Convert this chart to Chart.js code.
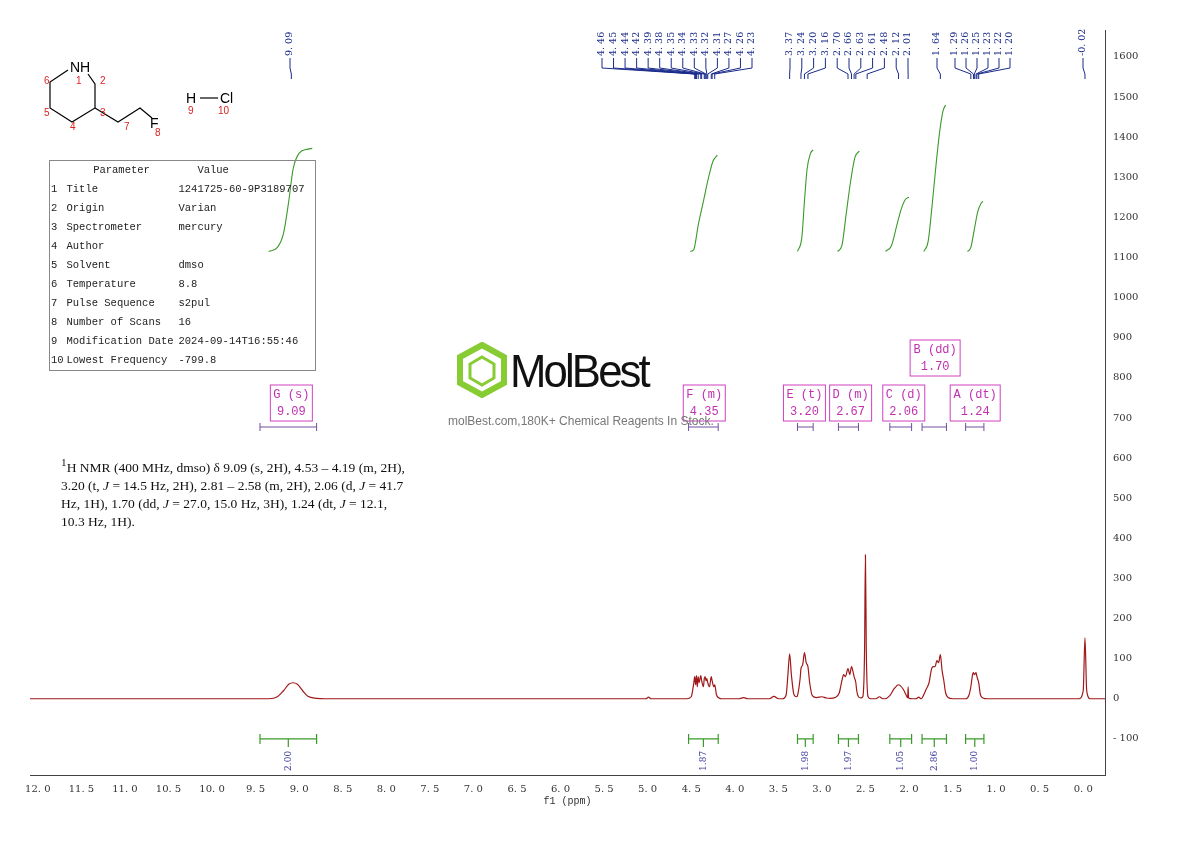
<!DOCTYPE html>
<html><head><meta charset="utf-8">
<script src="https://cdn.jsdelivr.net/npm/chart.js@4.4.1/dist/chart.umd.min.js"></script>
<style>
body{margin:0;background:#fff;width:1190px;height:841px;position:relative;overflow:hidden;font-family:"DejaVu Serif",serif}
#wrap{position:absolute;left:0;top:0;width:1190px;height:841px}
table.par{position:absolute;left:49px;top:160px;width:266px;height:211px;border:1.5px solid #888;border-collapse:collapse;font-family:"Liberation Mono",monospace;font-size:10.5px;color:#222;white-space:nowrap;table-layout:fixed}
table.par td{padding:0 1px;line-height:17px;overflow:visible}
.nmr{position:absolute;left:61px;top:453px;width:345px;font-family:"Liberation Serif",serif;font-size:13.5px;line-height:18px;color:#111}
.wm{position:absolute;left:448px;top:342px;color:#777}
</style></head>
<body>
<div id="wrap"><canvas id="c" width="1190" height="841"></canvas></div>
<svg style="position:absolute;left:0;top:0" width="330" height="150" font-family="Liberation Sans,Arial" font-size="11">
 <g stroke="#000" stroke-width="1.2" fill="none">
  <path d="M68 70 L50 82 L50 108 L72 122 L95 108 L95 84 L88 74"/>
  <path d="M95 108 L118 122 L140 108 L152 118"/>
  <path d="M200 98 L218 98"/>
 </g>
 <text x="70" y="72" font-size="14">NH</text>
 <text x="150" y="128" font-size="14">F</text>
 <text x="186" y="103" font-size="14">H</text><text x="220" y="103" font-size="14">Cl</text>
 <g fill="#d22" font-size="10"><text x="76" y="84">1</text><text x="100" y="84">2</text><text x="100" y="116">3</text>
 <text x="70" y="130">4</text><text x="44" y="116">5</text><text x="44" y="84">6</text><text x="124" y="130">7</text><text x="155" y="136">8</text>
 <text x="188" y="114">9</text><text x="218" y="114">10</text></g>
</svg>
<table class="par">
<colgroup><col style="width:16px"><col style="width:112px"><col style="width:138px"></colgroup>
<tr><td></td><td style="text-align:center">Parameter</td><td>&nbsp;&nbsp;&nbsp;Value</td></tr>
<tr><td>1</td><td>Title</td><td>1241725-60-9P3189707</td></tr>
<tr><td>2</td><td>Origin</td><td>Varian</td></tr>
<tr><td>3</td><td>Spectrometer</td><td>mercury</td></tr>
<tr><td>4</td><td>Author</td><td></td></tr>
<tr><td>5</td><td>Solvent</td><td>dmso</td></tr>
<tr><td>6</td><td>Temperature</td><td>8.8</td></tr>
<tr><td>7</td><td>Pulse Sequence</td><td>s2pul</td></tr>
<tr><td>8</td><td>Number of Scans</td><td>16</td></tr>
<tr><td>9</td><td>Modification Date</td><td>2024-09-14T16:55:46</td></tr>
<tr><td>10</td><td>Lowest Frequency</td><td>-799.8</td></tr>
</table>
<div class="nmr"><sup>1</sup>H NMR (400 MHz, dmso) δ 9.09 (s, 2H), 4.53 – 4.19 (m, 2H), 3.20 (t, <i>J</i> = 14.5 Hz, 2H), 2.81 – 2.58 (m, 2H), 2.06 (d, <i>J</i> = 41.7 Hz, 1H), 1.70 (dd, <i>J</i> = 27.0, 15.0 Hz, 3H), 1.24 (dt, <i>J</i> = 12.1, 10.3 Hz, 1H).</div>
<div class="wm">
 <svg width="56" height="56" style="position:absolute;left:6px;top:0"><polygon points="28,3 50,15 50,41 28,53 6,41 6,15" fill="none" stroke="#8c3" stroke-width="6"/><polygon points="28,15 40,22 40,36 28,43 16,36 16,22" fill="none" stroke="#8c3" stroke-width="3"/></svg>
 <div style="position:absolute;left:62px;top:2px;font-family:'Liberation Sans';font-size:46px;color:#111;letter-spacing:-3px;transform:scaleX(0.95);transform-origin:left;white-space:nowrap">MolBest</div>
 <div style="position:absolute;left:0;top:72px;font-family:'Liberation Sans';font-size:12px;white-space:nowrap">molBest.com,180K+ Chemical Reagents In Stock.</div>
</div>
<script>
const xTicks = [12,11.5,11,10.5,10,9.5,9,8.5,8,7.5,7,6.5,6,5.5,5,4.5,4,3.5,3,2.5,2,1.5,1,0.5,0];
const yTicks = [-100,0,100,200,300,400,500,600,700,800,900,1000,1100,1200,1300,1400,1500,1600];
const specPpm = [12.09,9.4,9.35,9.25,9.18,9.12,9.07,9.02,8.96,8.9,8.8,8.7,5.02,4.99,4.96,4.55,4.5,4.47,4.46,4.45,4.44,4.43,4.42,4.41,4.39,4.38,4.36,4.35,4.34,4.33,4.32,4.31,4.29,4.27,4.26,4.24,4.23,4.21,4.18,4.15,3.95,3.9,3.85,3.6,3.55,3.5,3.45,3.41,3.39,3.37,3.35,3.32,3.29,3.28,3.25,3.24,3.22,3.2,3.18,3.16,3.14,3.11,3.06,3.0,2.95,2.9,2.85,2.8,2.77,2.75,2.73,2.7,2.68,2.66,2.64,2.63,2.61,2.6,2.58,2.55,2.53,2.51,2.5,2.49,2.47,2.44,2.38,2.34,2.3,2.28,2.22,2.17,2.12,2.07,2.03,2.015,2.01,2.005,1.96,1.92,1.89,1.86,1.85,1.8,1.77,1.74,1.72,1.7,1.68,1.66,1.64,1.62,1.6,1.58,1.55,1.5,1.35,1.31,1.29,1.27,1.26,1.25,1.23,1.22,1.2,1.18,1.15,1.1,0.05,0.0,-0.02,-0.04,-0.08,-0.25];
const specInt = [0,0,0,5,20,36,40,36,20,6,1,0,0,4,0,0,5,40,55,35,58,30,55,40,58,45,30,50,55,45,50,40,30,55,45,30,35,10,2,0,0,3,0,0,6,0,0,10,60,112,60,10,5,8,50,75,85,115,90,80,40,8,3,5,2,1,3,15,45,60,55,75,60,80,65,55,40,20,5,2,5,120,359,120,5,0,0,5,0,0,8,25,35,25,8,2,30,2,0,0,4,0,2,25,40,75,80,80,95,90,110,70,45,15,3,0,0,10,30,60,65,60,65,55,40,10,2,0,0,20,152,20,0,0];
const integrals = [
 [[9.35,9.25,9.18,9.12,9.07,9.0,8.9,8.85],[1115,1125,1160,1240,1320,1360,1370,1372]],
 [[4.51,4.47,4.42,4.36,4.3,4.25,4.2],[1115,1120,1180,1240,1300,1340,1355]],
 [[3.28,3.23,3.2,3.17,3.13,3.1],[1115,1150,1240,1320,1360,1368]],
 [[2.82,2.77,2.72,2.67,2.62,2.57],[1115,1130,1210,1290,1350,1365]],
 [[2.27,2.2,2.14,2.09,2.04,2.0],[1115,1130,1180,1220,1245,1250]],
 [[1.83,1.78,1.73,1.69,1.65,1.61,1.58],[1115,1140,1240,1330,1410,1465,1480]],
 [[1.33,1.29,1.25,1.21,1.17,1.15],[1115,1125,1170,1215,1236,1240]]
];
const intRanges = [[9.45,8.8],[4.53,4.19],[3.28,3.1],[2.81,2.58],[2.22,1.97],[1.85,1.57],[1.35,1.14]];
const intLabels = ['2.00','1.87','1.98','1.97','1.05','2.86','1.00'];
const multLabels = [['G (s)','9.09',9.09,385],['F (m)','4.35',4.35,385],['E (t)','3.20',3.20,385],['D (m)','2.67',2.67,385],['C (d)','2.06',2.06,385],['B (dd)','1.70',1.70,340],['A (dt)','1.24',1.24,385]];
const multRanges = [[9.45,8.8],[4.53,4.19],[3.28,3.1],[2.81,2.58],[2.22,1.97],[1.85,1.57],[1.35,1.14]];
const peakGroups = [
 [[9.09],290,290],
 [[4.46,4.45,4.44,4.42,4.39,4.38,4.35,4.34,4.33,4.32,4.31,4.27,4.26,4.23],602,752],
 [[3.37,3.24,3.20,3.16,2.70,2.66,2.63,2.61,2.48,2.12,2.01],790,908],
 [[1.64],937,937],
 [[1.29,1.26,1.25,1.23,1.22,1.20],955,1010],
 [[-0.02],1083,1083]
];

const datasets = [{data: specPpm.map((x,i)=>({x, y: specInt[i]})), borderColor:'#a01818', borderWidth:1.2, pointRadius:0, cubicInterpolationMode:'monotone'}];
integrals.forEach(g => datasets.push({data: g[0].map((x,i)=>({x, y:g[1][i]})), borderColor:'#3a9a2a', borderWidth:1.1, pointRadius:0, cubicInterpolationMode:'monotone'}));

const deco = {
 id:'deco',
 afterDatasetsDraw(chart){
  const c = chart.ctx, xs = chart.scales.x, ys = chart.scales.y;
  c.save();
  c.lineWidth=1.2;
  intRanges.forEach((r,i)=>{
   const a=xs.getPixelForValue(r[0]), b=xs.getPixelForValue(r[1]), y=ys.getPixelForValue(-100);
   c.strokeStyle='#3a9a2a';
   c.beginPath(); c.moveTo(a,y-5); c.lineTo(a,y+5); c.moveTo(a,y); c.lineTo(b,y); c.moveTo(b,y-5); c.lineTo(b,y+5);
   const m=(a+b)/2; c.moveTo(m,y); c.lineTo(m,y+8); c.stroke();
   c.save(); c.translate(m+4,y+12); c.rotate(-Math.PI/2); c.fillStyle='#3a3a9a'; c.font='9px DejaVu Serif'; c.textAlign='right'; c.textBaseline='middle';
   c.fillText(intLabels[i],0,-4); c.restore();
  });
  c.font='12px Liberation Mono'; c.textAlign='center'; c.textBaseline='middle';
  multLabels.forEach((m,i)=>{
   const x=xs.getPixelForValue(m[2]), top=m[3], w=m[0].length>5?50:42;
   c.strokeStyle='#d040c0'; c.lineWidth=1; c.strokeRect(x-w/2,top,w,36);
   c.fillStyle='#c030b0'; c.fillText(m[0],x,top+10); c.fillText(m[1],x,top+27);
   const a=xs.getPixelForValue(multRanges[i][0]), b=xs.getPixelForValue(multRanges[i][1]), y=427;
   c.strokeStyle='#7050a0'; c.beginPath(); c.moveTo(a,y-4); c.lineTo(a,y+4); c.moveTo(a,y); c.lineTo(b,y); c.moveTo(b,y-4); c.lineTo(b,y+4); c.stroke();
  });
  c.strokeStyle='#1a2a8a'; c.fillStyle='#1a2a8a'; c.lineWidth=1; c.font='9.5px DejaVu Serif';
  peakGroups.forEach(g=>{
   const n=g[0].length;
   g[0].forEach((p,i)=>{
    const lx = n>1 ? g[1]+(g[2]-g[1])*i/(n-1) : g[1];
    const px = xs.getPixelForValue(p);
    c.beginPath(); c.moveTo(lx,58); c.lineTo(lx,68); c.lineTo(px,74); c.lineTo(px,79); c.stroke();
    c.save(); c.translate(lx,56); c.rotate(-Math.PI/2); c.textAlign='left'; c.textBaseline='middle';
    c.fillText((p<0?'-':'')+Math.abs(p).toFixed(2).replace('.', '. '),0,0); c.restore();
   });
  });
  c.restore();
 }
};

new Chart(document.getElementById('c'), {
 type:'line',
 data:{datasets},
 plugins:[deco],
 options:{
  responsive:false, animation:false,
  layout:{padding:{left:30,top:30}},
  plugins:{legend:{display:false}, tooltip:{enabled:false}},
  scales:{
   x:{type:'linear', reverse:true, min:-0.25, max:12.09,
      afterBuildTicks(s){ s.ticks = xTicks.map(v=>({value:v})); },
      afterFit(s){ s.height = 66; },
      grid:{display:false, drawTicks:true, tickLength:5, color:'#444'},
      border:{color:'#444'},
      ticks:{color:'#333', font:{family:'DejaVu Serif', size:10}, maxRotation:0, autoSkip:false, callback:v=>v.toFixed(1).replace('.', '. ')},
      title:{display:true, text:'f1 (ppm)', padding:{top:0,bottom:34}, color:'#333', font:{family:'Liberation Mono', size:10}}},
   y:{type:'linear', position:'right', min:-190, max:1667,
      afterBuildTicks(s){ s.ticks = yTicks.map(v=>({value:v})); },
      afterFit(s){ s.width = 85; },
      grid:{display:false, drawTicks:true, tickLength:5, color:'#444'},
      border:{color:'#444'},
      ticks:{color:'#333', font:{family:'DejaVu Serif', size:10}, callback:v=>String(v).replace('-','- ')}}
  }
 }
});
</script>
</body></html>
